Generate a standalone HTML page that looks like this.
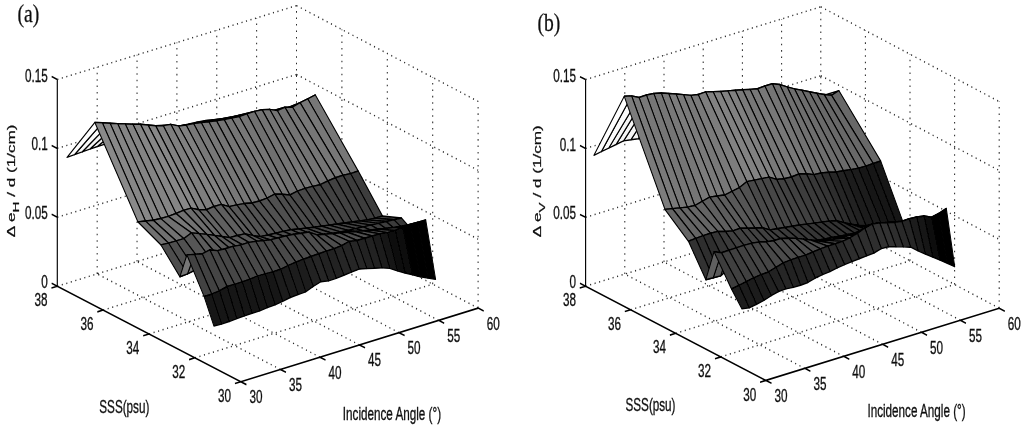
<!DOCTYPE html>
<html><head><meta charset="utf-8"><title>Figure</title>
<style>html,body{margin:0;padding:0;background:#fff}svg{display:block}</style></head>
<body><svg width="1024" height="427" viewBox="0 0 1024 427">
<rect width="1024" height="427" fill="#fff"/>
<defs><filter id="soft" x="-2%" y="-2%" width="104%" height="104%"><feGaussianBlur stdDeviation="0.45 0.3"/></filter></defs>
<g transform="scale(1,1.4)" filter="url(#soft)">
<path d="M97.17,195.63 L97.17,47.99 M280.35,263.88 L97.17,195.63 M137.03,186.83 L137.03,39.19 M319.9,255.12 L137.03,186.83 M176.9,178.04 L176.9,30.39 M359.45,246.36 L176.9,178.04 M216.77,169.24 L216.77,21.6 M399,237.6 L216.77,169.24 M256.63,160.44 L256.63,12.8 M438.55,228.83 L256.63,160.44 M296.5,151.64 L296.5,4 M478.1,220.07 L296.5,151.64 M478.1,220.07 L478.1,72.43 M432.7,202.96 L432.7,55.32 M387.3,185.86 L387.3,38.21 M341.9,168.75 L341.9,21.11 M194.93,255.59 L432.7,202.96 M149.05,238.54 L387.3,185.86 M103.17,221.48 L341.9,168.75 M57.3,204.43 L296.5,151.64 M57.3,155.21 L296.5,102.43 M296.5,102.43 L478.1,170.86 M57.3,106 L296.5,53.21 M296.5,53.21 L478.1,121.64 M57.3,56.79 L296.5,4 M296.5,4 L478.1,72.43" fill="none" stroke="#2a2a2a" stroke-width="1.05" stroke-dasharray="1.1 3.5"/>
<path d="M57.3,204.43 L57.3,56.79 M57.3,204.43 L240.8,272.64 M240.8,272.64 L478.1,220.07 M57.3,204.43 L51.68,202.34 M57.3,155.21 L51.68,153.12 M57.3,106 L51.68,103.91 M57.3,56.79 L51.68,54.7 M240.8,272.64 L234.94,273.94 M194.93,255.59 L189.07,256.89 M149.05,238.54 L143.19,239.83 M103.17,221.48 L97.32,222.78 M57.3,204.43 L51.44,205.73 M240.8,272.64 L246.42,274.73 M280.35,263.88 L285.97,265.97 M319.9,255.12 L325.52,257.21 M359.45,246.36 L365.07,248.45 M399,237.6 L404.62,239.69 M438.55,228.83 L444.17,230.92 M478.1,220.07 L483.72,222.16" fill="none" stroke="#000" stroke-width="1.15"/>
<g stroke="#000" stroke-width="1.0" stroke-linejoin="round"><path d="M280.57,80.57 L288.2,80 L315.3,67.79 L307.7,70.64Z" fill="#b7b7b7"/><path d="M272.94,81.14 L280.57,80.57 L307.7,70.64 L300.09,73.36Z" fill="#b4b4b4"/><path d="M265.31,81.71 L272.94,81.14 L300.09,73.36 L292.49,76.5Z" fill="#b1b1b1"/><path d="M257.68,82.28 L265.31,81.71 L292.49,76.5 L284.89,76.64Z" fill="#b5b5b5"/><path d="M250.05,82.85 L257.68,82.28 L284.89,76.64 L277.28,78.99Z" fill="#b3b3b3"/><path d="M242.42,83.4 L250.05,82.85 L277.28,78.99 L269.68,78.15Z" fill="#b9b9b9"/><path d="M234.79,83.94 L242.42,83.4 L269.68,78.15 L262.08,78.37Z" fill="#bdbdbd"/><path d="M227.17,84.49 L234.79,83.94 L262.08,78.37 L254.47,79.59Z" fill="#bebebe"/><path d="M219.54,85.07 L227.17,84.49 L254.47,79.59 L246.87,81.38Z" fill="#bebebe"/><path d="M211.91,85.66 L219.54,85.07 L246.87,81.38 L239.27,83.32Z" fill="#bdbdbd"/><path d="M204.28,86.25 L211.91,85.66 L239.27,83.32 L231.66,84.41Z" fill="#bfbfbf"/><path d="M196.65,87.31 L204.28,86.25 L231.66,84.41 L224.06,85.33Z" fill="#c0c0c0"/><path d="M189.02,88.57 L196.65,87.31 L224.06,85.33 L216.46,86.22Z" fill="#c2c2c2"/><path d="M181.39,89.83 L189.02,88.57 L216.46,86.22 L208.85,87.06Z" fill="#c4c4c4"/><path d="M173.76,91.08 L181.39,89.83 L208.85,87.06 L201.25,87.61Z" fill="#c7c7c7"/><path d="M166.13,92.34 L173.76,91.08 L201.25,87.61 L193.64,88.33Z" fill="#c9c9c9"/><path d="M158.5,93.6 L166.13,92.34 L193.64,88.33 L186.04,89.25Z" fill="#cbcbcb"/><path d="M150.87,94.86 L158.5,93.6 L186.04,89.25 L178.44,89.95Z" fill="#cdcdcd"/><path d="M143.24,96.19 L150.87,94.86 L178.44,89.95 L170.83,88.85Z" fill="#d4d4d4"/><path d="M135.61,97.54 L143.24,96.19 L170.83,88.85 L163.23,89.67Z" fill="#d6d6d6"/><path d="M127.98,98.88 L135.61,97.54 L163.23,89.67 L155.63,89.84Z" fill="#d9d9d9"/><path d="M120.36,100.23 L127.98,98.88 L155.63,89.84 L148.02,89.29Z" fill="#dedede"/><path d="M112.73,101.57 L120.36,100.23 L148.02,89.29 L140.42,88.74Z" fill="#e3e3e3"/><path d="M105.1,102.92 L112.73,101.57 L140.42,88.74 L132.82,88.73Z" fill="#e7e7e7"/><path d="M97.47,104.61 L105.1,102.92 L132.82,88.73 L125.21,88.51Z" fill="#ebebeb"/><path d="M89.84,106.56 L97.47,104.61 L125.21,88.51 L117.61,88.29Z" fill="#f0f0f0"/><path d="M82.21,108.52 L89.84,106.56 L117.61,88.29 L110.01,88.03Z" fill="#f4f4f4"/><path d="M74.58,110.47 L82.21,108.52 L110.01,88.03 L102.4,87.73Z" fill="#f9f9f9"/><path d="M66.95,112.43 L74.58,110.47 L102.4,87.73 L94.8,87.43Z" fill="#fdfdfd"/><path d="M307.7,70.64 L315.3,67.79 L358.2,122.14 L350.6,124.05Z" fill="#777777"/><path d="M300.09,73.36 L307.7,70.64 L350.6,124.05 L343.01,125.21Z" fill="#787878"/><path d="M292.49,76.5 L300.09,73.36 L343.01,125.21 L335.41,126.95Z" fill="#777777"/><path d="M284.89,76.64 L292.49,76.5 L335.41,126.95 L327.81,129.27Z" fill="#757575"/><path d="M277.28,78.99 L284.89,76.64 L327.81,129.27 L320.22,131.93Z" fill="#737373"/><path d="M269.68,78.15 L277.28,78.99 L320.22,131.93 L312.62,133.1Z" fill="#747474"/><path d="M262.08,78.37 L269.68,78.15 L312.62,133.1 L305.02,134.53Z" fill="#747474"/><path d="M254.47,79.59 L262.08,78.37 L305.02,134.53 L297.43,136.54Z" fill="#737373"/><path d="M246.87,81.38 L254.47,79.59 L297.43,136.54 L289.83,139.28Z" fill="#707070"/><path d="M239.27,83.32 L246.87,81.38 L289.83,139.28 L282.23,138.71Z" fill="#757575"/><path d="M231.66,84.41 L239.27,83.32 L282.23,138.71 L274.64,138.62Z" fill="#787878"/><path d="M224.06,85.33 L231.66,84.41 L274.64,138.62 L267.04,141.55Z" fill="#757575"/><path d="M216.46,86.22 L224.06,85.33 L267.04,141.55 L259.44,143.56Z" fill="#747474"/><path d="M208.85,87.06 L216.46,86.22 L259.44,143.56 L251.85,145.02Z" fill="#747474"/><path d="M201.25,87.61 L208.85,87.06 L251.85,145.02 L244.25,145.41Z" fill="#777777"/><path d="M193.64,88.33 L201.25,87.61 L244.25,145.41 L236.66,146.32Z" fill="#787878"/><path d="M186.04,89.25 L193.64,88.33 L236.66,146.32 L229.06,147.63Z" fill="#787878"/><path d="M178.44,89.95 L186.04,89.25 L229.06,147.63 L221.46,145.98Z" fill="#808080"/><path d="M170.83,88.85 L178.44,89.95 L221.46,145.98 L213.87,147.5Z" fill="#808080"/><path d="M163.23,89.67 L170.83,88.85 L213.87,147.5 L206.27,149.84Z" fill="#7e7e7e"/><path d="M155.63,89.84 L163.23,89.67 L206.27,149.84 L198.67,149.81Z" fill="#818181"/><path d="M148.02,89.29 L155.63,89.84 L198.67,149.81 L191.08,148.7Z" fill="#878787"/><path d="M140.42,88.74 L148.02,89.29 L191.08,148.7 L183.48,150.29Z" fill="#878787"/><path d="M132.82,88.73 L140.42,88.74 L183.48,150.29 L175.88,152.47Z" fill="#858585"/><path d="M125.21,88.51 L132.82,88.73 L175.88,152.47 L168.29,154.52Z" fill="#848484"/><path d="M117.61,88.29 L125.21,88.51 L168.29,154.52 L160.69,156.07Z" fill="#848484"/><path d="M110.01,88.03 L117.61,88.29 L160.69,156.07 L153.09,157.29Z" fill="#858585"/><path d="M102.4,87.73 L110.01,88.03 L153.09,157.29 L145.5,157.89Z" fill="#878787"/><path d="M94.8,87.43 L102.4,87.73 L145.5,157.89 L137.9,158.5Z" fill="#898989"/><path d="M350.6,124.05 L358.2,122.14 L382.5,154.29 L374.86,155.77Z" fill="#3e3e3e"/><path d="M343.01,125.21 L350.6,124.05 L374.86,155.77 L367.22,157.02Z" fill="#3e3e3e"/><path d="M335.41,126.95 L343.01,125.21 L367.22,157.02 L359.58,157.76Z" fill="#404040"/><path d="M327.81,129.27 L335.41,126.95 L359.58,157.76 L351.93,158.5Z" fill="#424242"/><path d="M320.22,131.93 L327.81,129.27 L351.93,158.5 L344.29,159.26Z" fill="#434343"/><path d="M312.62,133.1 L320.22,131.93 L344.29,159.26 L336.65,160.03Z" fill="#454545"/><path d="M305.02,134.53 L312.62,133.1 L336.65,160.03 L329.01,160.79Z" fill="#474747"/><path d="M297.43,136.54 L305.02,134.53 L329.01,160.79 L321.37,161.56Z" fill="#484848"/><path d="M289.83,139.28 L297.43,136.54 L321.37,161.56 L313.73,162.32Z" fill="#4a4a4a"/><path d="M282.23,138.71 L289.83,139.28 L313.73,162.32 L306.09,162.98Z" fill="#4c4c4c"/><path d="M274.64,138.62 L282.23,138.71 L306.09,162.98 L298.44,163.53Z" fill="#4e4e4e"/><path d="M267.04,141.55 L274.64,138.62 L298.44,163.53 L290.8,164.07Z" fill="#505050"/><path d="M259.44,143.56 L267.04,141.55 L290.8,164.07 L283.16,165.29Z" fill="#515151"/><path d="M251.85,145.02 L259.44,143.56 L283.16,165.29 L275.52,166.61Z" fill="#515151"/><path d="M244.25,145.41 L251.85,145.02 L275.52,166.61 L267.88,167.82Z" fill="#525252"/><path d="M236.66,146.32 L244.25,145.41 L267.88,167.82 L260.24,168.99Z" fill="#525252"/><path d="M229.06,147.63 L236.66,146.32 L260.24,168.99 L252.6,168.11Z" fill="#585858"/><path d="M221.46,145.98 L229.06,147.63 L252.6,168.11 L244.96,167.08Z" fill="#5d5d5d"/><path d="M213.87,147.5 L221.46,145.98 L244.96,167.08 L237.31,168.25Z" fill="#5e5e5e"/><path d="M206.27,149.84 L213.87,147.5 L237.31,168.25 L229.67,169.77Z" fill="#5e5e5e"/><path d="M198.67,149.81 L206.27,149.84 L229.67,169.77 L222.03,168.95Z" fill="#636363"/><path d="M191.08,148.7 L198.67,149.81 L222.03,168.95 L214.39,168.13Z" fill="#696969"/><path d="M183.48,150.29 L191.08,148.7 L214.39,168.13 L206.75,167.42Z" fill="#6d6d6d"/><path d="M175.88,152.47 L183.48,150.29 L206.75,167.42 L199.11,166.87Z" fill="#727272"/><path d="M168.29,154.52 L175.88,152.47 L199.11,166.87 L191.47,166.32Z" fill="#777777"/><path d="M160.69,156.07 L168.29,154.52 L191.47,166.32 L183.82,170.41Z" fill="#717171"/><path d="M153.09,157.29 L160.69,156.07 L183.82,170.41 L176.18,172.05Z" fill="#717171"/><path d="M145.5,157.89 L153.09,157.29 L176.18,172.05 L168.54,173.64Z" fill="#707070"/><path d="M137.9,158.5 L145.5,157.89 L168.54,173.64 L160.9,174.93Z" fill="#717171"/><path d="M374.86,155.77 L382.5,154.29 L401.5,155.71 L393.86,156.98Z" fill="#3e3e3e"/><path d="M367.22,157.02 L374.86,155.77 L393.86,156.98 L386.22,158.25Z" fill="#3f3f3f"/><path d="M359.58,157.76 L367.22,157.02 L386.22,158.25 L378.58,159.52Z" fill="#404040"/><path d="M351.93,158.5 L359.58,157.76 L378.58,159.52 L370.93,160.8Z" fill="#414141"/><path d="M344.29,159.26 L351.93,158.5 L370.93,160.8 L363.29,162.07Z" fill="#424242"/><path d="M336.65,160.03 L344.29,159.26 L363.29,162.07 L355.65,163.34Z" fill="#434343"/><path d="M329.01,160.79 L336.65,160.03 L355.65,163.34 L348.01,164.57Z" fill="#444444"/><path d="M321.37,161.56 L329.01,160.79 L348.01,164.57 L340.37,165.66Z" fill="#454545"/><path d="M313.73,162.32 L321.37,161.56 L340.37,165.66 L332.73,166.75Z" fill="#474747"/><path d="M306.09,162.98 L313.73,162.32 L332.73,166.75 L325.09,167.84Z" fill="#484848"/><path d="M298.44,163.53 L306.09,162.98 L325.09,167.84 L317.44,168.88Z" fill="#4a4a4a"/><path d="M290.8,164.07 L298.44,163.53 L317.44,168.88 L309.8,169.79Z" fill="#4b4b4b"/><path d="M283.16,165.29 L290.8,164.07 L309.8,169.79 L302.16,170.69Z" fill="#4d4d4d"/><path d="M275.52,166.61 L283.16,165.29 L302.16,170.69 L294.52,171.6Z" fill="#4f4f4f"/><path d="M267.88,167.82 L275.52,166.61 L294.52,171.6 L286.88,172.51Z" fill="#515151"/><path d="M260.24,168.99 L267.88,167.82 L286.88,172.51 L279.24,173.42Z" fill="#535353"/><path d="M252.6,168.11 L260.24,168.99 L279.24,173.42 L271.6,174.33Z" fill="#545454"/><path d="M244.96,167.08 L252.6,168.11 L271.6,174.33 L263.96,175.24Z" fill="#565656"/><path d="M237.31,168.25 L244.96,167.08 L263.96,175.24 L256.31,176.24Z" fill="#585858"/><path d="M229.67,169.77 L237.31,168.25 L256.31,176.24 L248.67,177.33Z" fill="#595959"/><path d="M222.03,168.95 L229.67,169.77 L248.67,177.33 L241.03,178.42Z" fill="#5a5a5a"/><path d="M214.39,168.13 L222.03,168.95 L241.03,178.42 L233.39,179.52Z" fill="#5c5c5c"/><path d="M206.75,167.42 L214.39,168.13 L233.39,179.52 L225.75,181.06Z" fill="#5c5c5c"/><path d="M199.11,166.87 L206.75,167.42 L225.75,181.06 L218.11,182.97Z" fill="#5c5c5c"/><path d="M191.47,166.32 L199.11,166.87 L218.11,182.97 L210.47,184.88Z" fill="#5b5b5b"/><path d="M183.82,170.41 L191.47,166.32 L210.47,184.88 L202.82,188.81Z" fill="#565656"/><path d="M176.18,172.05 L183.82,170.41 L202.82,188.81 L195.18,192.88Z" fill="#515151"/><path d="M168.54,173.64 L176.18,172.05 L195.18,192.88 L187.54,195.6Z" fill="#4f4f4f"/><path d="M160.9,174.93 L168.54,173.64 L187.54,195.6 L179.9,197.71Z" fill="#4e4e4e"/><path d="M393.86,156.98 L401.5,155.71 L408.5,161.43 L400.86,162Z" fill="#393939"/><path d="M386.22,158.25 L393.86,156.98 L400.86,162 L393.22,162.58Z" fill="#3b3b3b"/><path d="M378.58,159.52 L386.22,158.25 L393.22,162.58 L385.58,163.15Z" fill="#3e3e3e"/><path d="M370.93,160.8 L378.58,159.52 L385.58,163.15 L377.93,163.72Z" fill="#404040"/><path d="M363.29,162.07 L370.93,160.8 L377.93,163.72 L370.29,164.26Z" fill="#434343"/><path d="M355.65,163.34 L363.29,162.07 L370.29,164.26 L362.65,164.81Z" fill="#464646"/><path d="M348.01,164.57 L355.65,163.34 L362.65,164.81 L355.01,165.36Z" fill="#484848"/><path d="M340.37,165.66 L348.01,164.57 L355.01,165.36 L347.37,165.9Z" fill="#4b4b4b"/><path d="M332.73,166.75 L340.37,165.66 L347.37,165.9 L339.73,166.39Z" fill="#4e4e4e"/><path d="M325.09,167.84 L332.73,166.75 L339.73,166.39 L332.09,166.87Z" fill="#505050"/><path d="M317.44,168.88 L325.09,167.84 L332.09,166.87 L324.44,167.35Z" fill="#535353"/><path d="M309.8,169.79 L317.44,168.88 L324.44,167.35 L316.8,167.82Z" fill="#565656"/><path d="M302.16,170.69 L309.8,169.79 L316.8,167.82 L309.16,165.78Z" fill="#5e5e5e"/><path d="M294.52,171.6 L302.16,170.69 L309.16,165.78 L301.52,166.57Z" fill="#606060"/><path d="M286.88,172.51 L294.52,171.6 L301.52,166.57 L293.88,167.36Z" fill="#626262"/><path d="M279.24,173.42 L286.88,172.51 L293.88,167.36 L286.24,168.43Z" fill="#646464"/><path d="M271.6,174.33 L279.24,173.42 L286.24,168.43 L278.6,169.82Z" fill="#646464"/><path d="M263.96,175.24 L271.6,174.33 L278.6,169.82 L270.96,171.2Z" fill="#656565"/><path d="M256.31,176.24 L263.96,175.24 L270.96,171.2 L263.31,171.89Z" fill="#676767"/><path d="M248.67,177.33 L256.31,176.24 L263.31,171.89 L255.67,172.44Z" fill="#6a6a6a"/><path d="M241.03,178.42 L248.67,177.33 L255.67,172.44 L248.03,173.32Z" fill="#6c6c6c"/><path d="M233.39,179.52 L241.03,178.42 L248.03,173.32 L240.39,175.1Z" fill="#6b6b6b"/><path d="M225.75,181.06 L233.39,179.52 L240.39,175.1 L232.75,176.01Z" fill="#6d6d6d"/><path d="M218.11,182.97 L225.75,181.06 L232.75,176.01 L225.11,177.71Z" fill="#6d6d6d"/><path d="M210.47,184.88 L218.11,182.97 L225.11,177.71 L217.47,179.04Z" fill="#6e6e6e"/><path d="M202.82,188.81 L210.47,184.88 L217.47,179.04 L209.82,178.53Z" fill="#737373"/><path d="M195.18,192.88 L202.82,188.81 L209.82,178.53 L202.18,181.28Z" fill="#717171"/><path d="M187.54,195.6 L195.18,192.88 L202.18,181.28 L194.54,181.68Z" fill="#747474"/><path d="M179.9,197.71 L187.54,195.6 L194.54,181.68 L186.9,182.07Z" fill="#767676"/><path d="M400.86,162 L408.5,161.43 L425.7,157.07 L418.06,158.71Z" fill="#4f4f4f"/><path d="M393.22,162.58 L400.86,162 L418.06,158.71 L410.42,160.35Z" fill="#4f4f4f"/><path d="M385.58,163.15 L393.22,162.58 L410.42,160.35 L402.78,162.26Z" fill="#4e4e4e"/><path d="M377.93,163.72 L385.58,163.15 L402.78,162.26 L395.13,164.61Z" fill="#4d4d4d"/><path d="M370.29,164.26 L377.93,163.72 L395.13,164.61 L387.49,166.16Z" fill="#4d4d4d"/><path d="M362.65,164.81 L370.29,164.26 L387.49,166.16 L379.85,167.07Z" fill="#4f4f4f"/><path d="M355.01,165.36 L362.65,164.81 L379.85,167.07 L372.21,168.59Z" fill="#4f4f4f"/><path d="M347.37,165.9 L355.01,165.36 L372.21,168.59 L364.57,170.19Z" fill="#505050"/><path d="M339.73,166.39 L347.37,165.9 L364.57,170.19 L356.93,171.76Z" fill="#505050"/><path d="M332.09,166.87 L339.73,166.39 L356.93,171.76 L349.29,172.44Z" fill="#525252"/><path d="M324.44,167.35 L332.09,166.87 L349.29,172.44 L341.64,175.5Z" fill="#4f4f4f"/><path d="M316.8,167.82 L324.44,167.35 L341.64,175.5 L334,177.66Z" fill="#4e4e4e"/><path d="M309.16,165.78 L316.8,167.82 L334,177.66 L326.36,179.36Z" fill="#4e4e4e"/><path d="M301.52,166.57 L309.16,165.78 L326.36,179.36 L318.72,181.27Z" fill="#4e4e4e"/><path d="M293.88,167.36 L301.52,166.57 L318.72,181.27 L311.08,183.18Z" fill="#4d4d4d"/><path d="M286.24,168.43 L293.88,167.36 L311.08,183.18 L303.44,185.19Z" fill="#4c4c4c"/><path d="M278.6,169.82 L286.24,168.43 L303.44,185.19 L295.8,187.21Z" fill="#4c4c4c"/><path d="M270.96,171.2 L278.6,169.82 L295.8,187.21 L288.16,189.78Z" fill="#4a4a4a"/><path d="M263.31,171.89 L270.96,171.2 L288.16,189.78 L280.51,192.35Z" fill="#484848"/><path d="M255.67,172.44 L263.31,171.89 L280.51,192.35 L272.87,194.17Z" fill="#484848"/><path d="M248.03,173.32 L255.67,172.44 L272.87,194.17 L265.23,195.67Z" fill="#484848"/><path d="M240.39,175.1 L248.03,173.32 L265.23,195.67 L257.59,197.26Z" fill="#484848"/><path d="M232.75,176.01 L240.39,175.1 L257.59,197.26 L249.95,199.42Z" fill="#474747"/><path d="M225.11,177.71 L232.75,176.01 L249.95,199.42 L242.31,201.38Z" fill="#474747"/><path d="M217.47,179.04 L225.11,177.71 L242.31,201.38 L234.67,203.11Z" fill="#474747"/><path d="M209.82,178.53 L217.47,179.04 L234.67,203.11 L227.02,204.64Z" fill="#474747"/><path d="M202.18,181.28 L209.82,178.53 L227.02,204.64 L219.38,207.72Z" fill="#444444"/><path d="M194.54,181.68 L202.18,181.28 L219.38,207.72 L211.74,210.14Z" fill="#424242"/><path d="M186.9,182.07 L194.54,181.68 L211.74,210.14 L204.1,211.79Z" fill="#424242"/><path d="M418.06,158.71 L425.7,157.07 L435.6,199.57 L427.96,198.64Z" fill="#000000"/><path d="M410.42,160.35 L418.06,158.71 L427.96,198.64 L420.31,197.72Z" fill="#000000"/><path d="M402.78,162.26 L410.42,160.35 L420.31,197.72 L412.67,196.38Z" fill="#020202"/><path d="M395.13,164.61 L402.78,162.26 L412.67,196.38 L405.02,195.01Z" fill="#090909"/><path d="M387.49,166.16 L395.13,164.61 L405.02,195.01 L397.38,193.49Z" fill="#101010"/><path d="M379.85,167.07 L387.49,166.16 L397.38,193.49 L389.73,191.67Z" fill="#181818"/><path d="M372.21,168.59 L379.85,167.07 L389.73,191.67 L382.09,191.36Z" fill="#1d1d1d"/><path d="M364.57,170.19 L372.21,168.59 L382.09,191.36 L374.44,191.56Z" fill="#212121"/><path d="M356.93,171.76 L364.57,170.19 L374.44,191.56 L366.8,191.75Z" fill="#242424"/><path d="M349.29,172.44 L356.93,171.76 L366.8,191.75 L359.15,192.15Z" fill="#272727"/><path d="M341.64,175.5 L349.29,172.44 L359.15,192.15 L351.51,194.39Z" fill="#262626"/><path d="M334,177.66 L341.64,175.5 L351.51,194.39 L343.86,196.64Z" fill="#252525"/><path d="M326.36,179.36 L334,177.66 L343.86,196.64 L336.22,198.81Z" fill="#242424"/><path d="M318.72,181.27 L326.36,179.36 L336.22,198.81 L328.57,200.66Z" fill="#242424"/><path d="M311.08,183.18 L318.72,181.27 L328.57,200.66 L320.93,201.21Z" fill="#272727"/><path d="M303.44,185.19 L311.08,183.18 L320.93,201.21 L313.28,204.6Z" fill="#232323"/><path d="M295.8,187.21 L303.44,185.19 L313.28,204.6 L305.64,208.43Z" fill="#1e1e1e"/><path d="M288.16,189.78 L295.8,187.21 L305.64,208.43 L297.99,210.48Z" fill="#1e1e1e"/><path d="M280.51,192.35 L288.16,189.78 L297.99,210.48 L290.35,212.52Z" fill="#1d1d1d"/><path d="M272.87,194.17 L280.51,192.35 L290.35,212.52 L282.7,215.23Z" fill="#1b1b1b"/><path d="M265.23,195.67 L272.87,194.17 L282.7,215.23 L275.06,217.69Z" fill="#191919"/><path d="M257.59,197.26 L265.23,195.67 L275.06,217.69 L267.41,219.76Z" fill="#191919"/><path d="M249.95,199.42 L257.59,197.26 L267.41,219.76 L259.77,222.05Z" fill="#181818"/><path d="M242.31,201.38 L249.95,199.42 L259.77,222.05 L252.12,223.75Z" fill="#181818"/><path d="M234.67,203.11 L242.31,201.38 L252.12,223.75 L244.48,225.64Z" fill="#171717"/><path d="M227.02,204.64 L234.67,203.11 L244.48,225.64 L236.83,227.61Z" fill="#171717"/><path d="M219.38,207.72 L227.02,204.64 L236.83,227.61 L229.19,229.68Z" fill="#161616"/><path d="M211.74,210.14 L219.38,207.72 L229.19,229.68 L221.54,231.48Z" fill="#161616"/><path d="M204.1,211.79 L211.74,210.14 L221.54,231.48 L213.9,232.86Z" fill="#171717"/></g>
<g font-family="'Liberation Sans',sans-serif" fill="#111" stroke="#111" stroke-width="0.22"><text transform="translate(47.7,205.9) scale(1,1.09)" font-size="11.7" text-anchor="end">0</text><text transform="translate(47.7,156.69) scale(1,1.09)" font-size="11.7" text-anchor="end">0.05</text><text transform="translate(47.7,107.48) scale(1,1.09)" font-size="11.7" text-anchor="end">0.1</text><text transform="translate(47.7,58.26) scale(1,1.09)" font-size="11.7" text-anchor="end">0.15</text><text transform="translate(231.1,287.02) scale(1,1.09)" font-size="11.7" text-anchor="end">30</text><text transform="translate(185.23,269.97) scale(1,1.09)" font-size="11.7" text-anchor="end">32</text><text transform="translate(139.35,252.92) scale(1,1.09)" font-size="11.7" text-anchor="end">34</text><text transform="translate(93.47,235.86) scale(1,1.09)" font-size="11.7" text-anchor="end">36</text><text transform="translate(47.6,218.81) scale(1,1.09)" font-size="11.7" text-anchor="end">38</text><text transform="translate(249.4,288.02) scale(1,1.09)" font-size="11.7">30</text><text transform="translate(288.95,279.26) scale(1,1.09)" font-size="11.7">35</text><text transform="translate(328.5,270.5) scale(1,1.09)" font-size="11.7">40</text><text transform="translate(368.05,261.74) scale(1,1.09)" font-size="11.7">45</text><text transform="translate(407.6,252.98) scale(1,1.09)" font-size="11.7">50</text><text transform="translate(447.15,244.21) scale(1,1.09)" font-size="11.7">55</text><text transform="translate(486.7,235.45) scale(1,1.09)" font-size="11.7">60</text><text transform="translate(99.3,295) scale(1,1.09)" font-size="11.7">SSS(psu)</text><text transform="translate(342.8,300.07) scale(1,1.09)" font-size="11.7">Incidence Angle (°)</text><text transform="translate(15.1,169.43) scale(1,1.09) rotate(-90)" font-size="11.23">Δ e<tspan font-size="9.94" dy="3.8">H</tspan><tspan dy="-3.8"> / d (1/cm)</tspan></text><text transform="translate(17.5,15.86) scale(1,0.94)" font-size="19.6" font-family="'Liberation Serif',serif">(a)</text></g>
<path d="M624.8,195.76 L624.8,48.19 M804.78,263.12 L624.8,195.76 M664,187.1 L664,39.52 M843.67,254.52 L664,187.1 M703.2,178.43 L703.2,30.86 M882.55,245.93 L703.2,178.43 M742.4,169.76 L742.4,22.19 M921.43,237.33 L742.4,169.76 M781.6,161.1 L781.6,13.52 M960.32,228.74 L781.6,161.1 M820.8,152.43 L820.8,4.86 M999.2,220.14 L820.8,152.43 M999.2,220.14 L999.2,72.57 M954.6,203.21 L954.6,55.64 M910,186.29 L910,38.71 M865.4,169.36 L865.4,21.79 M720.82,254.89 L954.6,203.21 M675.75,238.07 L910,186.29 M630.68,221.25 L865.4,169.36 M585.6,204.43 L820.8,152.43 M585.6,155.24 L820.8,103.24 M820.8,103.24 L999.2,170.95 M585.6,106.05 L820.8,54.05 M820.8,54.05 L999.2,121.76 M585.6,56.86 L820.8,4.86 M820.8,4.86 L999.2,72.57" fill="none" stroke="#2a2a2a" stroke-width="1.05" stroke-dasharray="1.1 3.5"/>
<path d="M585.6,204.43 L585.6,56.86 M585.6,204.43 L765.9,271.71 M765.9,271.71 L999.2,220.14 M585.6,204.43 L579.98,202.33 M585.6,155.24 L579.98,153.14 M585.6,106.05 L579.98,103.95 M585.6,56.86 L579.98,54.76 M765.9,271.71 L760.04,273.01 M720.82,254.89 L714.97,256.19 M675.75,238.07 L669.89,239.37 M630.68,221.25 L624.82,222.55 M585.6,204.43 L579.74,205.72 M765.9,271.71 L771.52,273.81 M804.78,263.12 L810.4,265.22 M843.67,254.52 L849.29,256.62 M882.55,245.93 L888.17,248.03 M921.43,237.33 L927.05,239.43 M960.32,228.74 L965.94,230.84 M999.2,220.14 L1004.82,222.24" fill="none" stroke="#000" stroke-width="1.15"/>
<g stroke="#000" stroke-width="1.0" stroke-linejoin="round"><path d="M801.2,72.35 L808.6,71.43 L838.9,64.71 L831.5,68.06Z" fill="#9c9c9c"/><path d="M793.79,73.28 L801.2,72.35 L831.5,68.06 L824.09,67.48Z" fill="#a1a1a1"/><path d="M786.39,74.2 L793.79,73.28 L824.09,67.48 L816.69,66.56Z" fill="#a7a7a7"/><path d="M778.99,75.13 L786.39,74.2 L816.69,66.56 L809.29,65.5Z" fill="#acacac"/><path d="M771.58,76.05 L778.99,75.13 L809.29,65.5 L801.88,64.51Z" fill="#b2b2b2"/><path d="M764.18,76.98 L771.58,76.05 L801.88,64.51 L794.48,63.52Z" fill="#b8b8b8"/><path d="M756.78,77.9 L764.18,76.98 L794.48,63.52 L787.08,62.07Z" fill="#bebebe"/><path d="M749.37,78.83 L756.78,77.9 L787.08,62.07 L779.67,60.39Z" fill="#c5c5c5"/><path d="M741.97,79.75 L749.37,78.83 L779.67,60.39 L772.27,59.8Z" fill="#cacaca"/><path d="M734.57,81.04 L741.97,79.75 L772.27,59.8 L764.87,61.46Z" fill="#cacaca"/><path d="M727.16,82.45 L734.57,81.04 L764.87,61.46 L757.46,63.36Z" fill="#cacaca"/><path d="M719.76,83.86 L727.16,82.45 L757.46,63.36 L750.06,63.85Z" fill="#cccccc"/><path d="M712.36,85.27 L719.76,83.86 L750.06,63.85 L742.66,64.11Z" fill="#cfcfcf"/><path d="M704.95,86.68 L712.36,85.27 L742.66,64.11 L735.25,64.47Z" fill="#d2d2d2"/><path d="M697.55,88.09 L704.95,86.68 L735.25,64.47 L727.85,64.89Z" fill="#d5d5d5"/><path d="M690.14,89.5 L697.55,88.09 L727.85,64.89 L720.44,65.32Z" fill="#d7d7d7"/><path d="M682.74,90.91 L690.14,89.5 L720.44,65.32 L713.04,65.47Z" fill="#dbdbdb"/><path d="M675.34,92.28 L682.74,90.91 L713.04,65.47 L705.64,65.6Z" fill="#dedede"/><path d="M667.93,93.64 L675.34,92.28 L705.64,65.6 L698.23,67.53Z" fill="#dedede"/><path d="M660.53,95 L667.93,93.64 L698.23,67.53 L690.83,68.14Z" fill="#e0e0e0"/><path d="M653.13,96.35 L660.53,95 L690.83,68.14 L683.43,67.61Z" fill="#e5e5e5"/><path d="M645.72,97.71 L653.13,96.35 L683.43,67.61 L676.02,67.16Z" fill="#e9e9e9"/><path d="M638.32,99.07 L645.72,97.71 L676.02,67.16 L668.62,66.79Z" fill="#ededed"/><path d="M630.92,99.86 L638.32,99.07 L668.62,66.79 L661.22,66.42Z" fill="#f2f2f2"/><path d="M623.51,100.65 L630.92,99.86 L661.22,66.42 L653.81,66.79Z" fill="#f4f4f4"/><path d="M616.11,103.22 L623.51,100.65 L653.81,66.79 L646.41,67.86Z" fill="#f6f6f6"/><path d="M608.71,105.79 L616.11,103.22 L646.41,67.86 L639.01,69.64Z" fill="#f6f6f6"/><path d="M601.3,108.36 L608.71,105.79 L639.01,69.64 L631.6,68.45Z" fill="#fcfcfc"/><path d="M593.9,110.93 L601.3,108.36 L631.6,68.45 L624.2,68.79Z" fill="#ffffff"/><path d="M831.5,68.06 L838.9,64.71 L880.7,115 L873.26,116.82Z" fill="#686868"/><path d="M824.09,67.48 L831.5,68.06 L873.26,116.82 L865.82,118.63Z" fill="#686868"/><path d="M816.69,66.56 L824.09,67.48 L865.82,118.63 L858.39,120.14Z" fill="#686868"/><path d="M809.29,65.5 L816.69,66.56 L858.39,120.14 L850.95,121.18Z" fill="#696969"/><path d="M801.88,64.51 L809.29,65.5 L850.95,121.18 L843.51,122.01Z" fill="#6a6a6a"/><path d="M794.48,63.52 L801.88,64.51 L843.51,122.01 L836.07,122.84Z" fill="#6c6c6c"/><path d="M787.08,62.07 L794.48,63.52 L836.07,122.84 L828.63,123.07Z" fill="#6e6e6e"/><path d="M779.67,60.39 L787.08,62.07 L828.63,123.07 L821.2,123.6Z" fill="#707070"/><path d="M772.27,59.8 L779.67,60.39 L821.2,123.6 L813.76,124.75Z" fill="#717171"/><path d="M764.87,61.46 L772.27,59.8 L813.76,124.75 L806.32,124.1Z" fill="#757575"/><path d="M757.46,63.36 L764.87,61.46 L806.32,124.1 L798.88,124.3Z" fill="#787878"/><path d="M750.06,63.85 L757.46,63.36 L798.88,124.3 L791.44,126.43Z" fill="#777777"/><path d="M742.66,64.11 L750.06,63.85 L791.44,126.43 L784.01,127.67Z" fill="#777777"/><path d="M735.25,64.47 L742.66,64.11 L784.01,127.67 L776.57,128.15Z" fill="#797979"/><path d="M727.85,64.89 L735.25,64.47 L776.57,128.15 L769.13,126.54Z" fill="#808080"/><path d="M720.44,65.32 L727.85,64.89 L769.13,126.54 L761.69,127.57Z" fill="#818181"/><path d="M713.04,65.47 L720.44,65.32 L761.69,127.57 L754.26,128.64Z" fill="#828282"/><path d="M705.64,65.6 L713.04,65.47 L754.26,128.64 L746.82,129.75Z" fill="#828282"/><path d="M698.23,67.53 L705.64,65.6 L746.82,129.75 L739.38,134.04Z" fill="#7d7d7d"/><path d="M690.83,68.14 L698.23,67.53 L739.38,134.04 L731.94,136.68Z" fill="#7a7a7a"/><path d="M683.43,67.61 L690.83,68.14 L731.94,136.68 L724.5,139.33Z" fill="#787878"/><path d="M676.02,67.16 L683.43,67.61 L724.5,139.33 L717.07,140.01Z" fill="#7a7a7a"/><path d="M668.62,66.79 L676.02,67.16 L717.07,140.01 L709.63,140.79Z" fill="#7b7b7b"/><path d="M661.22,66.42 L668.62,66.79 L709.63,140.79 L702.19,143.81Z" fill="#787878"/><path d="M653.81,66.79 L661.22,66.42 L702.19,143.81 L694.75,146.83Z" fill="#757575"/><path d="M646.41,67.86 L653.81,66.79 L694.75,146.83 L687.31,147.93Z" fill="#767676"/><path d="M639.01,69.64 L646.41,67.86 L687.31,147.93 L679.88,148.47Z" fill="#787878"/><path d="M631.6,68.45 L639.01,69.64 L679.88,148.47 L672.44,149.02Z" fill="#7a7a7a"/><path d="M624.2,68.79 L631.6,68.45 L672.44,149.02 L665,149.57Z" fill="#7c7c7c"/><path d="M873.26,116.82 L880.7,115 L903,158.57 L895.6,158.57Z" fill="#131313"/><path d="M865.82,118.63 L873.26,116.82 L895.6,158.57 L888.2,158.67Z" fill="#161616"/><path d="M858.39,120.14 L865.82,118.63 L888.2,158.67 L880.8,159.22Z" fill="#191919"/><path d="M850.95,121.18 L858.39,120.14 L880.8,159.22 L873.4,159.94Z" fill="#1c1c1c"/><path d="M843.51,122.01 L850.95,121.18 L873.4,159.94 L866,161.18Z" fill="#1d1d1d"/><path d="M836.07,122.84 L843.51,122.01 L866,161.18 L858.6,161.09Z" fill="#212121"/><path d="M828.63,123.07 L836.07,122.84 L858.6,161.09 L851.2,160.2Z" fill="#272727"/><path d="M821.2,123.6 L828.63,123.07 L851.2,160.2 L843.8,159.02Z" fill="#2d2d2d"/><path d="M813.76,124.75 L821.2,123.6 L843.8,159.02 L836.4,157.7Z" fill="#343434"/><path d="M806.32,124.1 L813.76,124.75 L836.4,157.7 L829,157.92Z" fill="#383838"/><path d="M798.88,124.3 L806.32,124.1 L829,157.92 L821.6,158.68Z" fill="#3a3a3a"/><path d="M791.44,126.43 L798.88,124.3 L821.6,158.68 L814.2,159.39Z" fill="#3c3c3c"/><path d="M784.01,127.67 L791.44,126.43 L814.2,159.39 L806.8,160.06Z" fill="#3f3f3f"/><path d="M776.57,128.15 L784.01,127.67 L806.8,160.06 L799.4,160.72Z" fill="#424242"/><path d="M769.13,126.54 L776.57,128.15 L799.4,160.72 L792,161.58Z" fill="#444444"/><path d="M761.69,127.57 L769.13,126.54 L792,161.58 L784.6,162.46Z" fill="#464646"/><path d="M754.26,128.64 L761.69,127.57 L784.6,162.46 L777.2,163.35Z" fill="#484848"/><path d="M746.82,129.75 L754.26,128.64 L777.2,163.35 L769.8,164.17Z" fill="#4a4a4a"/><path d="M739.38,134.04 L746.82,129.75 L769.8,164.17 L762.4,162.69Z" fill="#515151"/><path d="M731.94,136.68 L739.38,134.04 L762.4,162.69 L755,162.81Z" fill="#555555"/><path d="M724.5,139.33 L731.94,136.68 L755,162.81 L747.6,163.07Z" fill="#585858"/><path d="M717.07,140.01 L724.5,139.33 L747.6,163.07 L740.2,163.04Z" fill="#5c5c5c"/><path d="M709.63,140.79 L717.07,140.01 L740.2,163.04 L732.8,164.94Z" fill="#5c5c5c"/><path d="M702.19,143.81 L709.63,140.79 L732.8,164.94 L725.4,165.4Z" fill="#5f5f5f"/><path d="M694.75,146.83 L702.19,143.81 L725.4,165.4 L718,165.31Z" fill="#646464"/><path d="M687.31,147.93 L694.75,146.83 L718,165.31 L710.6,166.6Z" fill="#656565"/><path d="M679.88,148.47 L687.31,147.93 L710.6,166.6 L703.2,168.33Z" fill="#656565"/><path d="M672.44,149.02 L679.88,148.47 L703.2,168.33 L695.8,170.31Z" fill="#656565"/><path d="M665,149.57 L672.44,149.02 L695.8,170.31 L688.4,172.29Z" fill="#656565"/><path d="M895.6,158.57 L903,158.57 L921.5,158.57 L914.06,159.41Z" fill="#212121"/><path d="M888.2,158.67 L895.6,158.57 L914.06,159.41 L906.62,160.26Z" fill="#232323"/><path d="M880.8,159.22 L888.2,158.67 L906.62,160.26 L899.19,161.1Z" fill="#242424"/><path d="M873.4,159.94 L880.8,159.22 L899.19,161.1 L891.75,161.94Z" fill="#262626"/><path d="M866,161.18 L873.4,159.94 L891.75,161.94 L884.31,162.82Z" fill="#282828"/><path d="M858.6,161.09 L866,161.18 L884.31,162.82 L876.87,163.71Z" fill="#2a2a2a"/><path d="M851.2,160.2 L858.6,161.09 L876.87,163.71 L869.43,164.59Z" fill="#2b2b2b"/><path d="M843.8,159.02 L851.2,160.2 L869.43,164.59 L862,165.48Z" fill="#2d2d2d"/><path d="M836.4,157.7 L843.8,159.02 L862,165.48 L854.56,166.49Z" fill="#2e2e2e"/><path d="M829,157.92 L836.4,157.7 L854.56,166.49 L847.12,167.55Z" fill="#303030"/><path d="M821.6,158.68 L829,157.92 L847.12,167.55 L839.68,168.62Z" fill="#313131"/><path d="M814.2,159.39 L821.6,158.68 L839.68,168.62 L832.24,169.68Z" fill="#323232"/><path d="M806.8,160.06 L814.2,159.39 L832.24,169.68 L824.81,170.62Z" fill="#343434"/><path d="M799.4,160.72 L806.8,160.06 L824.81,170.62 L817.37,171.5Z" fill="#353535"/><path d="M792,161.58 L799.4,160.72 L817.37,171.5 L809.93,172.39Z" fill="#373737"/><path d="M784.6,162.46 L792,161.58 L809.93,172.39 L802.49,173.27Z" fill="#393939"/><path d="M777.2,163.35 L784.6,162.46 L802.49,173.27 L795.06,174.04Z" fill="#3b3b3b"/><path d="M769.8,164.17 L777.2,163.35 L795.06,174.04 L787.62,174.75Z" fill="#3d3d3d"/><path d="M762.4,162.69 L769.8,164.17 L787.62,174.75 L780.18,175.46Z" fill="#3f3f3f"/><path d="M755,162.81 L762.4,162.69 L780.18,175.46 L772.74,176.17Z" fill="#414141"/><path d="M747.6,163.07 L755,162.81 L772.74,176.17 L765.3,177.32Z" fill="#424242"/><path d="M740.2,163.04 L747.6,163.07 L765.3,177.32 L757.87,178.74Z" fill="#434343"/><path d="M732.8,164.94 L740.2,163.04 L757.87,178.74 L750.43,181.01Z" fill="#414141"/><path d="M725.4,165.4 L732.8,164.94 L750.43,181.01 L742.99,183.83Z" fill="#3f3f3f"/><path d="M718,165.31 L725.4,165.4 L742.99,183.83 L735.55,187.32Z" fill="#3b3b3b"/><path d="M710.6,166.6 L718,165.31 L735.55,187.32 L728.11,192.2Z" fill="#353535"/><path d="M703.2,168.33 L710.6,166.6 L728.11,192.2 L720.68,197.02Z" fill="#2e2e2e"/><path d="M695.8,170.31 L703.2,168.33 L720.68,197.02 L713.24,198.4Z" fill="#2f2f2f"/><path d="M688.4,172.29 L695.8,170.31 L713.24,198.4 L705.8,199.79Z" fill="#303030"/><path d="M914.06,159.41 L921.5,158.57 L929.7,158.57 L922.26,159.11Z" fill="#282828"/><path d="M906.62,160.26 L914.06,159.41 L922.26,159.11 L914.82,159.64Z" fill="#2a2a2a"/><path d="M899.19,161.1 L906.62,160.26 L914.82,159.64 L907.39,160.18Z" fill="#2d2d2d"/><path d="M891.75,161.94 L899.19,161.1 L907.39,160.18 L899.95,160.72Z" fill="#2f2f2f"/><path d="M884.31,162.82 L891.75,161.94 L899.95,160.72 L892.51,161.61Z" fill="#313131"/><path d="M876.87,163.71 L884.31,162.82 L892.51,161.61 L885.07,162.49Z" fill="#323232"/><path d="M869.43,164.59 L876.87,163.71 L885.07,162.49 L877.63,163.38Z" fill="#343434"/><path d="M862,165.48 L869.43,164.59 L877.63,163.38 L870.2,164.26Z" fill="#363636"/><path d="M854.56,166.49 L862,165.48 L870.2,164.26 L862.76,165.84Z" fill="#363636"/><path d="M847.12,167.55 L854.56,166.49 L862.76,165.84 L855.32,167.43Z" fill="#363636"/><path d="M839.68,168.62 L847.12,167.55 L855.32,167.43 L847.88,168.87Z" fill="#373737"/><path d="M832.24,169.68 L839.68,168.62 L847.88,168.87 L840.44,169.94Z" fill="#383838"/><path d="M824.81,170.62 L832.24,169.68 L840.44,169.94 L833.01,171Z" fill="#393939"/><path d="M817.37,171.5 L824.81,170.62 L833.01,171 L825.57,171.69Z" fill="#3b3b3b"/><path d="M809.93,172.39 L817.37,171.5 L825.57,171.69 L818.13,172.12Z" fill="#3e3e3e"/><path d="M802.49,173.27 L809.93,172.39 L818.13,172.12 L810.69,171.46Z" fill="#434343"/><path d="M795.06,174.04 L802.49,173.27 L810.69,171.46 L803.26,170.81Z" fill="#484848"/><path d="M787.62,174.75 L795.06,174.04 L803.26,170.81 L795.82,170.28Z" fill="#4c4c4c"/><path d="M780.18,175.46 L787.62,174.75 L795.82,170.28 L788.38,170.14Z" fill="#505050"/><path d="M772.74,176.17 L780.18,175.46 L788.38,170.14 L780.94,170.37Z" fill="#535353"/><path d="M765.3,177.32 L772.74,176.17 L780.94,170.37 L773.5,171.95Z" fill="#535353"/><path d="M757.87,178.74 L765.3,177.32 L773.5,171.95 L766.07,172.79Z" fill="#555555"/><path d="M750.43,181.01 L757.87,178.74 L766.07,172.79 L758.63,172.91Z" fill="#585858"/><path d="M742.99,183.83 L750.43,181.01 L758.63,172.91 L751.19,173.8Z" fill="#5a5a5a"/><path d="M735.55,187.32 L742.99,183.83 L751.19,173.8 L743.75,175.29Z" fill="#5a5a5a"/><path d="M728.11,192.2 L735.55,187.32 L743.75,175.29 L736.31,177.1Z" fill="#5a5a5a"/><path d="M720.68,197.02 L728.11,192.2 L736.31,177.1 L728.88,178.78Z" fill="#5a5a5a"/><path d="M713.24,198.4 L720.68,197.02 L728.88,178.78 L721.44,180.51Z" fill="#5a5a5a"/><path d="M705.8,199.79 L713.24,198.4 L721.44,180.51 L714,179.79Z" fill="#5f5f5f"/><path d="M922.26,159.11 L929.7,158.57 L946.3,148.93 L938.89,152.46Z" fill="#474747"/><path d="M914.82,159.64 L922.26,159.11 L938.89,152.46 L931.49,155.19Z" fill="#454545"/><path d="M907.39,160.18 L914.82,159.64 L931.49,155.19 L924.08,154.31Z" fill="#4a4a4a"/><path d="M899.95,160.72 L907.39,160.18 L924.08,154.31 L916.67,155.02Z" fill="#4c4c4c"/><path d="M892.51,161.61 L899.95,160.72 L916.67,155.02 L909.27,156.26Z" fill="#4e4e4e"/><path d="M885.07,162.49 L892.51,161.61 L909.27,156.26 L901.86,158.01Z" fill="#4e4e4e"/><path d="M877.63,163.38 L885.07,162.49 L901.86,158.01 L894.45,158.75Z" fill="#505050"/><path d="M870.2,164.26 L877.63,163.38 L894.45,158.75 L887.04,159.07Z" fill="#535353"/><path d="M862.76,165.84 L870.2,164.26 L887.04,159.07 L879.64,159.07Z" fill="#565656"/><path d="M855.32,167.43 L862.76,165.84 L879.64,159.07 L872.23,160.13Z" fill="#585858"/><path d="M847.88,168.87 L855.32,167.43 L872.23,160.13 L864.82,162.89Z" fill="#565656"/><path d="M840.44,169.94 L847.88,168.87 L864.82,162.89 L857.42,166.63Z" fill="#525252"/><path d="M833.01,171 L840.44,169.94 L857.42,166.63 L850.01,169.8Z" fill="#4f4f4f"/><path d="M825.57,171.69 L833.01,171 L850.01,169.8 L842.6,172.4Z" fill="#4d4d4d"/><path d="M818.13,172.12 L825.57,171.69 L842.6,172.4 L835.2,174.12Z" fill="#4d4d4d"/><path d="M810.69,171.46 L818.13,172.12 L835.2,174.12 L827.79,175.82Z" fill="#4d4d4d"/><path d="M803.26,170.81 L810.69,171.46 L827.79,175.82 L820.38,177.81Z" fill="#4d4d4d"/><path d="M795.82,170.28 L803.26,170.81 L820.38,177.81 L812.98,180.02Z" fill="#4c4c4c"/><path d="M788.38,170.14 L795.82,170.28 L812.98,180.02 L805.57,182.21Z" fill="#4b4b4b"/><path d="M780.94,170.37 L788.38,170.14 L805.57,182.21 L798.16,183.8Z" fill="#4c4c4c"/><path d="M773.5,171.95 L780.94,170.37 L798.16,183.8 L790.76,185.62Z" fill="#4c4c4c"/><path d="M766.07,172.79 L773.5,171.95 L790.76,185.62 L783.35,187.75Z" fill="#4b4b4b"/><path d="M758.63,172.91 L766.07,172.79 L783.35,187.75 L775.94,191.02Z" fill="#484848"/><path d="M751.19,173.8 L758.63,172.91 L775.94,191.02 L768.53,194.26Z" fill="#454545"/><path d="M743.75,175.29 L751.19,173.8 L768.53,194.26 L761.13,196.2Z" fill="#444444"/><path d="M736.31,177.1 L743.75,175.29 L761.13,196.2 L753.72,198.54Z" fill="#434343"/><path d="M728.88,178.78 L736.31,177.1 L753.72,198.54 L746.31,201.2Z" fill="#414141"/><path d="M721.44,180.51 L728.88,178.78 L746.31,201.2 L738.91,203.83Z" fill="#404040"/><path d="M714,179.79 L721.44,180.51 L738.91,203.83 L731.5,206.43Z" fill="#3e3e3e"/><path d="M938.89,152.46 L946.3,148.93 L954.7,190.5 L947.36,188.17Z" fill="#000000"/><path d="M931.49,155.19 L938.89,152.46 L947.36,188.17 L940.02,185.83Z" fill="#040404"/><path d="M924.08,154.31 L931.49,155.19 L940.02,185.83 L932.69,183.6Z" fill="#0c0c0c"/><path d="M916.67,155.02 L924.08,154.31 L932.69,183.6 L925.35,181.52Z" fill="#141414"/><path d="M909.27,156.26 L916.67,155.02 L925.35,181.52 L918.01,179.18Z" fill="#1c1c1c"/><path d="M901.86,158.01 L909.27,156.26 L918.01,179.18 L910.67,176.56Z" fill="#252525"/><path d="M894.45,158.75 L901.86,158.01 L910.67,176.56 L903.33,176.33Z" fill="#292929"/><path d="M887.04,159.07 L894.45,158.75 L903.33,176.33 L896,176.23Z" fill="#2d2d2d"/><path d="M879.64,159.07 L887.04,159.07 L896,176.23 L888.66,176.29Z" fill="#313131"/><path d="M872.23,160.13 L879.64,159.07 L888.66,176.29 L881.32,177.62Z" fill="#313131"/><path d="M864.82,162.89 L872.23,160.13 L881.32,177.62 L873.98,180.72Z" fill="#2f2f2f"/><path d="M857.42,166.63 L864.82,162.89 L873.98,180.72 L866.64,182.75Z" fill="#2e2e2e"/><path d="M850.01,169.8 L857.42,166.63 L866.64,182.75 L859.31,184.81Z" fill="#2d2d2d"/><path d="M842.6,172.4 L850.01,169.8 L859.31,184.81 L851.97,186.91Z" fill="#2d2d2d"/><path d="M835.2,174.12 L842.6,172.4 L851.97,186.91 L844.63,188.97Z" fill="#2c2c2c"/><path d="M827.79,175.82 L835.2,174.12 L844.63,188.97 L837.29,191.37Z" fill="#2a2a2a"/><path d="M820.38,177.81 L827.79,175.82 L837.29,191.37 L829.96,194.02Z" fill="#292929"/><path d="M812.98,180.02 L820.38,177.81 L829.96,194.02 L822.62,196.12Z" fill="#282828"/><path d="M805.57,182.21 L812.98,180.02 L822.62,196.12 L815.28,198.59Z" fill="#262626"/><path d="M798.16,183.8 L805.57,182.21 L815.28,198.59 L807.94,201.76Z" fill="#232323"/><path d="M790.76,185.62 L798.16,183.8 L807.94,201.76 L800.6,203.78Z" fill="#232323"/><path d="M783.35,187.75 L790.76,185.62 L800.6,203.78 L793.27,205.3Z" fill="#232323"/><path d="M775.94,191.02 L783.35,187.75 L793.27,205.3 L785.93,206.31Z" fill="#252525"/><path d="M768.53,194.26 L775.94,191.02 L785.93,206.31 L778.59,208.23Z" fill="#242424"/><path d="M761.13,196.2 L768.53,194.26 L778.59,208.23 L771.25,211.2Z" fill="#222222"/><path d="M753.72,198.54 L761.13,196.2 L771.25,211.2 L763.91,214.57Z" fill="#1e1e1e"/><path d="M746.31,201.2 L753.72,198.54 L763.91,214.57 L756.58,217.44Z" fill="#1c1c1c"/><path d="M738.91,203.83 L746.31,201.2 L756.58,217.44 L749.24,219.91Z" fill="#1a1a1a"/><path d="M731.5,206.43 L738.91,203.83 L749.24,219.91 L741.9,220.57Z" fill="#1d1d1d"/></g>
<g font-family="'Liberation Sans',sans-serif" fill="#111" stroke="#111" stroke-width="0.22"><text transform="translate(576,205.9) scale(1,1.09)" font-size="11.7" text-anchor="end">0</text><text transform="translate(576,156.71) scale(1,1.09)" font-size="11.7" text-anchor="end">0.05</text><text transform="translate(576,107.52) scale(1,1.09)" font-size="11.7" text-anchor="end">0.1</text><text transform="translate(576,58.33) scale(1,1.09)" font-size="11.7" text-anchor="end">0.15</text><text transform="translate(756.2,286.1) scale(1,1.09)" font-size="11.7" text-anchor="end">30</text><text transform="translate(711.12,269.27) scale(1,1.09)" font-size="11.7" text-anchor="end">32</text><text transform="translate(666.05,252.45) scale(1,1.09)" font-size="11.7" text-anchor="end">34</text><text transform="translate(620.98,235.63) scale(1,1.09)" font-size="11.7" text-anchor="end">36</text><text transform="translate(575.9,218.81) scale(1,1.09)" font-size="11.7" text-anchor="end">38</text><text transform="translate(774.5,287.1) scale(1,1.09)" font-size="11.7">30</text><text transform="translate(813.38,278.5) scale(1,1.09)" font-size="11.7">35</text><text transform="translate(852.27,269.9) scale(1,1.09)" font-size="11.7">40</text><text transform="translate(891.15,261.31) scale(1,1.09)" font-size="11.7">45</text><text transform="translate(930.03,252.71) scale(1,1.09)" font-size="11.7">50</text><text transform="translate(968.92,244.12) scale(1,1.09)" font-size="11.7">55</text><text transform="translate(1007.8,235.52) scale(1,1.09)" font-size="11.7">60</text><text transform="translate(625.5,293.86) scale(1,1.09)" font-size="11.7">SSS(psu)</text><text transform="translate(867.4,298) scale(1,1.09)" font-size="11.7">Incidence Angle (°)</text><text transform="translate(540.8,169.43) scale(1,1.09) rotate(-90)" font-size="11.23">Δ e<tspan font-size="9.94" dy="3.8">V</tspan><tspan dy="-3.8"> / d (1/cm)</tspan></text><text transform="translate(537.5,21.93) scale(1,0.94)" font-size="19.6" font-family="'Liberation Serif',serif">(b)</text></g>
</g></svg></body></html>
